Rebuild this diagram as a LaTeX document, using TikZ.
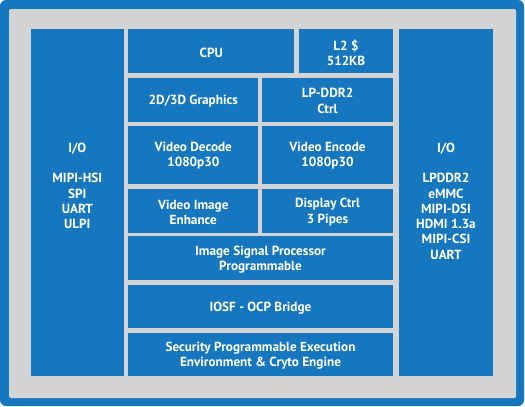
\documentclass[tikz,border=0pt]{standalone}
\usepackage{fontspec}
\setmainfont{PT Sans}
\begin{document}
\begin{tikzpicture}[x=1pt,y=-1pt,
  chipblue/.style={fill=cblue,draw=none},
  blk/.style={chipblue,text=white,font=\bfseries\fontsize{13.2}{15.3}\selectfont,align=center,inner sep=0pt},
  txtdown/.style={yshift=-1.2pt},
]
\definecolor{cblue}{HTML}{1677BE}
\definecolor{cgray}{HTML}{D2D4D6}
\useasboundingbox (0,0) rectangle (525,407);
% outer frame
\fill[cblue,rounded corners=6pt] (0,0) rectangle (524,406);
\fill[cgray,rounded corners=2pt] (9,9) rectangle (516,398);
\newcommand{\blkbox}[6]{%
  \fill[cblue] (#1,#2) rectangle (#3,#4);
  \node[blk,txtdown] (#5) at ({(#1+#3)/2},{(#2+#4)/2}) {#6};}
\blkbox{30.7}{29.3}{124}{376}{iol}{}
\node[blk,anchor=north] (iolt) at (77.3,142.5) {I/O\\[15.3pt]MIPI-HSI\\SPI\\UART\\ULPI};
\blkbox{399}{29.3}{493}{376}{ior}{}
\node[blk,anchor=north] (iort) at (446,142.5) {I/O\\[15.3pt]LPDDR2\\eMMC\\MIPI-DSI\\HDMI 1.3a\\MIPI-CSI\\UART};
\blkbox{128.3}{29.3}{294.3}{73.3}{cpu}{CPU}
\blkbox{299.3}{29.3}{392.7}{73.3}{l2}{L2 \$\\512KB}
\blkbox{128.3}{77.7}{258.3}{121.7}{gfx}{2D/3D Graphics}
\blkbox{262.3}{77.7}{392.7}{121.7}{ddr}{LP-DDR2\\Ctrl}
\blkbox{128.3}{125.7}{258.3}{183.7}{vdec}{Video Decode\\1080p30}
\blkbox{262.3}{125.7}{392.7}{183.7}{venc}{Video Encode\\1080p30}
\blkbox{128.3}{188.7}{258.3}{233.3}{vie}{Video Image\\Enhance}
\blkbox{262.3}{188.7}{392.7}{233.3}{disp}{Display Ctrl\\3 Pipes}
\blkbox{128.3}{236.3}{392.7}{280}{isp}{Image Signal Processor\\Programmable}
\blkbox{128.3}{284.7}{392.7}{328.3}{iosf}{IOSF - OCP Bridge}
\blkbox{128.3}{332.7}{392.7}{376}{sec}{Security Programmable Execution\\Environment \& Cryto Engine}
\end{tikzpicture}
\end{document}
